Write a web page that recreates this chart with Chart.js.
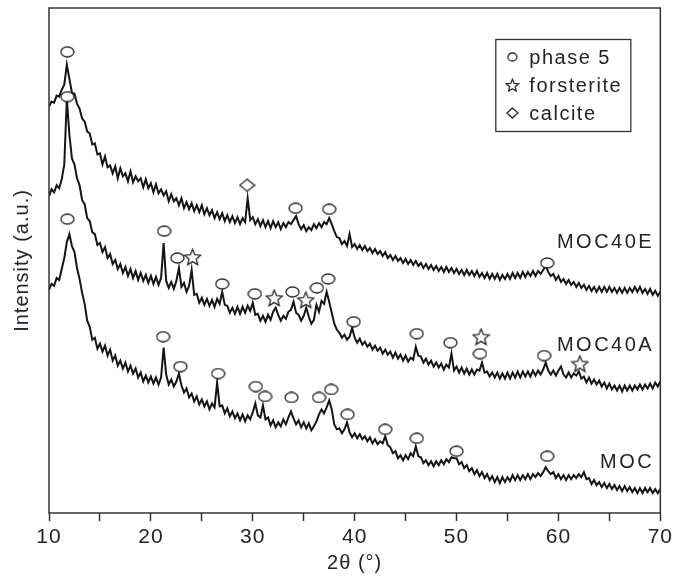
<!DOCTYPE html>
<html>
<head>
<meta charset="utf-8">
<script src="https://cdn.jsdelivr.net/npm/chart.js@4.4.1/dist/chart.umd.min.js"></script>
<style>
    html, body { margin: 0; padding: 0; background: #fff; }
    canvas { display: block; }
</style>
</head>
<body>
<canvas id="xrdChart" width="676" height="579"></canvas>
<script>
// 2-theta grid (degrees)
const twoTheta = [
    10, 10.25, 10.5, 10.75, 11, 11.25, 11.5, 11.75, 12, 12.25, 12.5, 12.75, 13, 13.25, 13.5, 13.75, 14, 14.25, 14.5, 14.75,
    15, 15.25, 15.5, 15.75, 16, 16.25, 16.5, 16.75, 17, 17.25, 17.5, 17.75, 18, 18.25, 18.5, 18.75, 19, 19.25, 19.5, 19.75,
    20, 20.25, 20.5, 20.75, 21, 21.25, 21.5, 21.75, 22, 22.25, 22.5, 22.75, 23, 23.25, 23.5, 23.75, 24, 24.25, 24.5, 24.75,
    25, 25.25, 25.5, 25.75, 26, 26.25, 26.5, 26.75, 27, 27.25, 27.5, 27.75, 28, 28.25, 28.5, 28.75, 29, 29.25, 29.5, 29.75,
    30, 30.25, 30.5, 30.75, 31, 31.25, 31.5, 31.75, 32, 32.25, 32.5, 32.75, 33, 33.25, 33.5, 33.75, 34, 34.25, 34.5, 34.75,
    35, 35.25, 35.5, 35.75, 36, 36.25, 36.5, 36.75, 37, 37.25, 37.5, 37.75, 38, 38.25, 38.5, 38.75, 39, 39.25, 39.5, 39.75,
    40, 40.25, 40.5, 40.75, 41, 41.25, 41.5, 41.75, 42, 42.25, 42.5, 42.75, 43, 43.25, 43.5, 43.75, 44, 44.25, 44.5, 44.75,
    45, 45.25, 45.5, 45.75, 46, 46.25, 46.5, 46.75, 47, 47.25, 47.5, 47.75, 48, 48.25, 48.5, 48.75, 49, 49.25, 49.5, 49.75,
    50, 50.25, 50.5, 50.75, 51, 51.25, 51.5, 51.75, 52, 52.25, 52.5, 52.75, 53, 53.25, 53.5, 53.75, 54, 54.25, 54.5, 54.75,
    55, 55.25, 55.5, 55.75, 56, 56.25, 56.5, 56.75, 57, 57.25, 57.5, 57.75, 58, 58.25, 58.5, 58.75, 59, 59.25, 59.5, 59.75,
    60, 60.25, 60.5, 60.75, 61, 61.25, 61.5, 61.75, 62, 62.25, 62.5, 62.75, 63, 63.25, 63.5, 63.75, 64, 64.25, 64.5, 64.75,
    65, 65.25, 65.5, 65.75, 66, 66.25, 66.5, 66.75, 67, 67.25, 67.5, 67.75, 68, 68.25, 68.5, 68.75, 69, 69.25, 69.5, 69.75,
    70
];

// intensities (a.u.)
const moc40E = [
    408, 413, 412, 419, 418, 425, 430, 450, 436, 422, 421, 411, 406, 396, 393, 383, 381, 370, 371, 360,
    361, 350, 358, 347, 349, 341, 348, 336, 346, 338, 341, 333, 343, 332, 338, 333, 336, 327, 335, 326,
    331, 322, 330, 321, 325, 319, 323, 313, 320, 313, 316, 309, 316, 306, 312, 305, 311, 303, 309, 302,
    309, 300, 306, 299, 304, 296, 302, 295, 301, 293, 299, 292, 298, 291, 297, 290, 296, 292, 316, 294,
    297, 290, 295, 288, 294, 287, 293, 286, 293, 287, 292, 285, 291, 287, 292, 290, 294, 298, 290, 285,
    289, 283, 287, 284, 290, 286, 291, 287, 292, 290, 296, 290, 283, 277, 276, 270, 273, 268, 280, 267,
    270, 265, 269, 264, 268, 263, 266, 261, 265, 260, 263, 258, 262, 256, 259, 254, 258, 253, 256, 251,
    255, 250, 254, 249, 253, 248, 251, 246, 250, 245, 249, 244, 248, 243, 247, 242, 247, 242, 246, 241,
    245, 240, 244, 239, 244, 239, 243, 238, 243, 237, 241, 236, 241, 235, 240, 235, 240, 234, 239, 235,
    240, 235, 241, 236, 241, 236, 242, 237, 242, 238, 243, 238, 243, 240, 244, 248, 242, 238, 240, 234,
    238, 232, 235, 230, 234, 229, 232, 227, 231, 226, 229, 224, 228, 223, 227, 222, 227, 222, 227, 222,
    227, 222, 226, 221, 226, 221, 226, 221, 226, 222, 227, 222, 227, 221, 225, 220, 225, 219, 223, 218,
    222
];
const moc40A = [
    318, 325, 322, 329, 326, 335, 350, 416, 380, 356, 350, 336, 329, 314, 310, 296, 293, 282, 280, 269,
    271, 262, 267, 256, 260, 250, 254, 245, 250, 241, 247, 238, 245, 236, 243, 234, 241, 233, 239, 231,
    238, 230, 237, 229, 236, 271, 233, 226, 232, 225, 233, 246, 227, 231, 222, 228, 244, 219, 220, 211,
    216, 209, 215, 208, 214, 207, 215, 210, 222, 209, 208, 201, 206, 200, 207, 200, 207, 201, 208, 203,
    211, 199, 200, 193, 198, 192, 199, 194, 202, 206, 199, 193, 198, 195, 202, 204, 212, 201, 199, 193,
    198, 206, 197, 190, 194, 209, 202, 213, 210, 222, 212, 201, 190, 184, 181, 176, 179, 174, 177, 186,
    176, 171, 175, 169, 172, 167, 170, 164, 168, 163, 166, 160, 164, 159, 162, 156, 161, 155, 159, 153,
    158, 152, 156, 154, 167, 158, 157, 151, 155, 149, 153, 147, 151, 146, 150, 144, 149, 146, 160, 143,
    147, 141, 146, 140, 145, 139, 144, 139, 144, 143, 151, 141, 142, 137, 141, 136, 141, 135, 140, 135,
    141, 135, 141, 136, 142, 136, 142, 137, 142, 137, 143, 138, 143, 139, 144, 151, 143, 139, 143, 138,
    143, 147, 139, 136, 141, 136, 140, 138, 142, 135, 137, 131, 136, 130, 134, 129, 133, 127, 131, 125,
    130, 124, 128, 123, 128, 122, 128, 123, 128, 123, 128, 124, 129, 124, 129, 125, 130, 125, 131, 127,
    132
];
const moc = [
    224, 230, 228, 236, 234, 245, 256, 272, 280, 268, 262, 246, 235, 221, 210, 193, 187, 174, 176, 165,
    170, 162, 168, 158, 164, 153, 158, 148, 153, 145, 151, 142, 148, 140, 145, 136, 141, 132, 138, 131,
    137, 130, 136, 129, 136, 166, 139, 129, 134, 127, 132, 140, 128, 121, 125, 116, 120, 112, 117, 109,
    114, 107, 112, 104, 110, 106, 131, 107, 108, 100, 105, 97, 102, 95, 100, 93, 99, 92, 98, 94,
    101, 110, 98, 96, 108, 94, 96, 88, 93, 86, 91, 87, 94, 89, 96, 102, 95, 89, 93, 86,
    91, 85, 90, 83, 87, 92, 99, 104, 100, 106, 113, 104, 89, 84, 85, 80, 84, 91, 81, 76,
    80, 75, 79, 74, 77, 72, 76, 70, 74, 69, 72, 70, 77, 68, 66, 60, 62, 55, 58, 53,
    58, 54, 60, 57, 67, 57, 56, 50, 53, 48, 52, 47, 52, 48, 53, 49, 54, 51, 56, 55,
    55, 49, 51, 45, 48, 42, 45, 39, 43, 37, 41, 35, 39, 33, 37, 31, 36, 30, 36, 31,
    36, 32, 38, 33, 38, 33, 38, 34, 39, 34, 39, 36, 40, 37, 41, 46, 42, 39, 41, 35,
    39, 34, 38, 33, 38, 34, 38, 35, 39, 36, 41, 34, 35, 29, 33, 28, 31, 26, 30, 25,
    29, 24, 28, 23, 27, 22, 27, 22, 26, 21, 25, 20, 25, 20, 25, 21, 25, 20, 24, 20,
    24
];

// phase markers
const phase5X = [11.8, 34.2, 37.5, 58.9,
    11.8, 21.3, 22.6, 27.0, 30.2, 33.9, 36.3, 37.4, 39.9, 46.1, 49.4, 52.3, 58.6,
    11.8, 21.2, 22.9, 26.6, 30.3, 31.2, 33.8, 36.5, 37.7, 39.3, 43.0, 46.1, 50.0, 58.9];
const phase5Y = [463, 306, 305, 251,
    418, 283, 256, 230, 220, 222, 226, 235, 192, 180, 171, 160, 158,
    295, 177, 147, 140, 127, 117, 116, 116, 124, 99, 84, 75, 62, 57];
const forsteriteX = [24.1, 32.1, 35.2, 52.4, 62.1];
const forsteriteY = [257, 216, 214, 177, 150];
const calciteX = [29.45];
const calciteY = [329];

const seriesNames = ['MOC40E', 'MOC40A', 'MOC'];
const markerNames = ['phase 5', 'forsterite', 'calcite'];

const ink = '#151515';
const frameColor = '#333';
const textColor = '#23232f';
const fontFamily = '"Liberation Sans", Arial, sans-serif';

function points(xs, ys) {
    return xs.map(function(x, i) { return { x: x, y: ys[i] }; });
}

// small marker pictures, drawn once
function markerImage(kind, w, h) {
    var c = document.createElement('canvas');
    c.width = w;
    c.height = h;
    var g = c.getContext('2d');
    g.fillStyle = '#fff';
    g.strokeStyle = '#262626';
    g.lineWidth = 1.3;
    g.beginPath();
    if (kind === 'circle') {
        g.ellipse(w / 2, h / 2, w / 2 - 1, h / 2 - 1, 0, 0, Math.PI * 2);
    } else if (kind === 'diamond') {
        g.moveTo(w / 2, 1);
        g.lineTo(w - 1, h / 2);
        g.lineTo(w / 2, h - 1);
        g.lineTo(1, h / 2);
        g.closePath();
    } else {
        var cx = w / 2, cy = h / 2 + 0.8, ro = w / 2 - 1, ri = ro * 0.45;
        for (var k = 0; k < 10; k++) {
            var r = k % 2 ? ri : ro;
            var a = -Math.PI / 2 + k * Math.PI / 5;
            var px = cx + r * Math.cos(a), py = cy + r * Math.sin(a);
            if (k === 0) g.moveTo(px, py); else g.lineTo(px, py);
        }
        g.closePath();
    }
    g.fill();
    g.stroke();
    return c;
}

const circleImg = markerImage('circle', 15, 12);
const starImg = markerImage('star', 19, 18);
const diamondImg = markerImage('diamond', 17, 14);
const legendImgs = [markerImage('circle', 11, 10), markerImage('star', 15, 14), markerImage('diamond', 13, 12)];

// frame, legend box and series names
const decorations = {
    id: 'decorations',
    beforeDraw: function(chart) {
        chart.ctx.letterSpacing = '1px';
    },
    afterDraw: function(chart) {
        var ctx = chart.ctx;
        var area = chart.chartArea;
        var xs = chart.scales.x, ys = chart.scales.y;
        ctx.save();
        ctx.strokeStyle = frameColor;
        ctx.lineWidth = 1.5;
        ctx.strokeRect(area.left, area.top, area.right - area.left, area.bottom - area.top);

        // legend
        var lx = area.right - 165, ly = area.top + 31;
        ctx.lineWidth = 1.3;
        ctx.strokeRect(lx + 0.5, ly + 0.5, 135, 92);
        ctx.font = '20px ' + fontFamily;
        ctx.letterSpacing = '1.5px';
        ctx.fillStyle = textColor;
        ctx.textBaseline = 'middle';
        ctx.textAlign = 'left';
        for (var i = 0; i < markerNames.length; i++) {
            var cy = ly + 18 + i * 28;
            var img = legendImgs[i];
            ctx.drawImage(img, lx + 17 - img.width / 2, cy - img.height / 2);
            ctx.fillText(markerNames[i], lx + 34, cy + 1);
        }

        // series names
        ctx.letterSpacing = '2.5px';
        ctx.textAlign = 'right';
        var nameY = [272, 168, 51];
        for (var j = 0; j < seriesNames.length; j++) {
            ctx.fillText(seriesNames[j], xs.getPixelForValue(69.4), ys.getPixelForValue(nameY[j]));
        }
        ctx.restore();
    }
};

function lineSet(label, values) {
    return {
        label: label,
        data: points(twoTheta, values),
        borderColor: ink,
        borderWidth: 2,
        borderJoinStyle: 'miter',
        pointRadius: 0,
        tension: 0,
        fill: false,
        order: 2
    };
}

function markerSet(label, xs, ys, img) {
    return {
        label: label,
        type: 'scatter',
        data: points(xs, ys),
        pointStyle: img,
        pointRadius: 7,
        order: 1
    };
}

const ctx = document.getElementById('xrdChart').getContext('2d');
const xrdChart = new Chart(ctx, {
    type: 'line',
    data: {
        datasets: [
            markerSet(markerNames[0], phase5X, phase5Y, circleImg),
            markerSet(markerNames[1], forsteriteX, forsteriteY, starImg),
            markerSet(markerNames[2], calciteX, calciteY, diamondImg),
            lineSet(seriesNames[0], moc40E),
            lineSet(seriesNames[1], moc40A),
            lineSet(seriesNames[2], moc)
        ]
    },
    options: {
        responsive: false,
        animation: false,
        devicePixelRatio: 1,
        layout: { padding: { top: 6, right: 13, left: 0, bottom: 0 } },
        plugins: {
            legend: { display: false },
            tooltip: { enabled: false }
        },
        scales: {
            x: {
                type: 'linear',
                min: 10,
                max: 70,
                afterFit: function(scale) { scale.height = 66; },
                ticks: {
                    stepSize: 5,
                    autoSkip: false,
                    maxRotation: 0,
                    padding: 4,
                    color: textColor,
                    font: { size: 21, family: fontFamily },
                    callback: function(v) { return v % 10 === 0 ? v : ''; }
                },
                grid: {
                    display: true,
                    drawOnChartArea: false,
                    drawTicks: true,
                    tickLength: 8,
                    tickColor: frameColor,
                    tickWidth: 1.5
                },
                border: { display: false },
                title: {
                    display: true,
                    text: '2θ (°)',
                    color: textColor,
                    font: { size: 20, family: fontFamily },
                    padding: { top: 4, bottom: 4 }
                }
            },
            y: {
                min: 0,
                max: 507,
                afterFit: function(scale) { scale.width = 49; },
                ticks: { display: false },
                grid: { display: false },
                border: { display: false },
                title: {
                    display: true,
                    text: 'Intensity (a.u.)',
                    color: textColor,
                    font: { size: 20, family: fontFamily },
                    padding: { top: 10, bottom: 0 }
                }
            }
        }
    },
    plugins: [decorations]
});
</script>
</body>
</html>
